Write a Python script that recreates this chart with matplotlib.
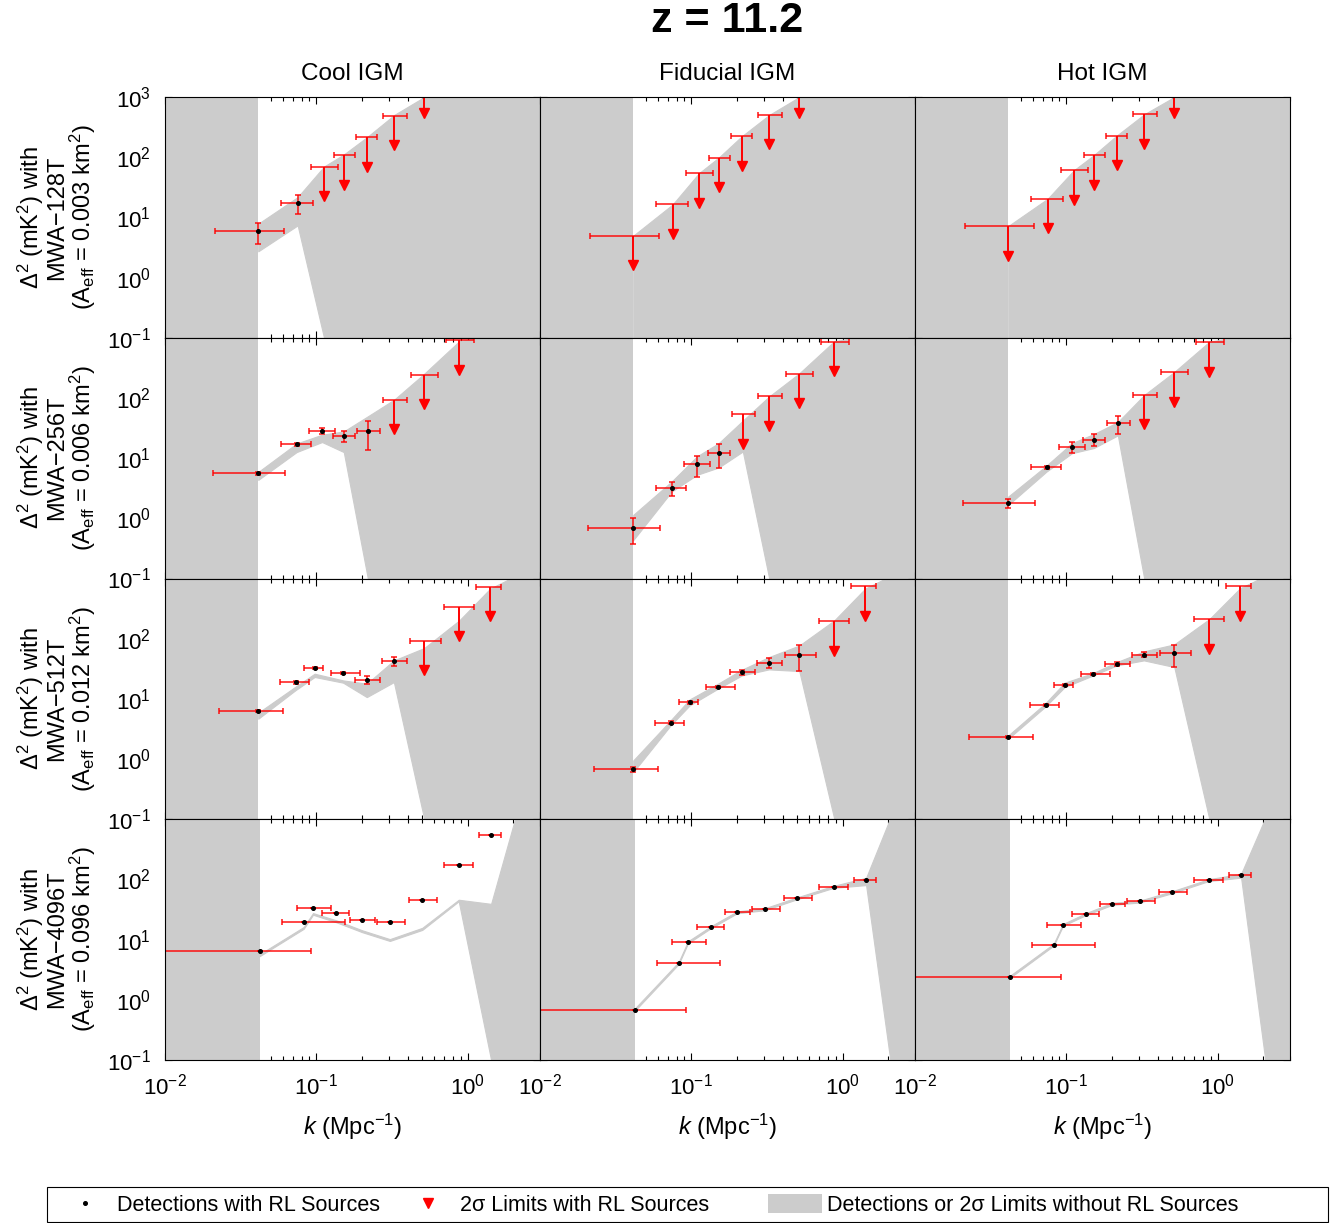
import numpy as np
import matplotlib
matplotlib.use('Agg')
import matplotlib.pyplot as plt
from matplotlib.patches import Rectangle, Patch
from matplotlib.lines import Line2D
from matplotlib.ticker import LogLocator, NullLocator, NullFormatter

plt.rcParams['font.family'] = ['Liberation Sans', 'DejaVu Sans']
plt.rcParams['mathtext.fontset'] = 'custom'
plt.rcParams['mathtext.rm'] = 'Liberation Sans'
plt.rcParams['mathtext.it'] = 'Liberation Sans:italic'
plt.rcParams['mathtext.bf'] = 'Liberation Sans:bold'

# ---------------- data ----------------
col_titles = ['Cool IGM', 'Fiducial IGM', 'Hot IGM']
row_arrays = ['MWA\u2212128T', 'MWA\u2212256T', 'MWA\u2212512T', 'MWA\u22124096T']
row_aeff = ['0.003', '0.006', '0.012', '0.096']

# k bins (Mpc^-1) for each array, with bin edges; kx = extra bin of the no-RL curve
k_128 = [0.0413, 0.0752, 0.1123, 0.1517, 0.2153, 0.3266, 0.516]
klo_128 = [0.0215, 0.0583, 0.092, 0.131, 0.184, 0.2735, 0.417]
khi_128 = [0.061, 0.0944, 0.139, 0.1795, 0.252, 0.394, 0.632]
kx_128 = 0.88

k_256 = [0.0413, 0.0740, 0.109, 0.1517, 0.2187, 0.3266, 0.514, 0.880]
klo_256 = [0.0207, 0.0583, 0.0898, 0.1288, 0.1858, 0.2748, 0.4233, 0.7146]
khi_256 = [0.0620, 0.0926, 0.1335, 0.1812, 0.2612, 0.3943, 0.6326, 1.095]
kx_256 = 1.40

k_512 = [0.0413, 0.0729, 0.0974, 0.150, 0.2153, 0.325, 0.516, 0.880, 1.405]
klo_512 = [0.02265, 0.0574, 0.0828, 0.125, 0.1812, 0.272, 0.417, 0.70, 1.141]
khi_512 = [0.0605, 0.0894, 0.1106, 0.1945, 0.2625, 0.3943, 0.662, 1.106, 1.653]
kx_512 = 2.06

k_4096 = [0.0421, 0.0824, 0.0950, 0.1356, 0.2006, 0.3057, 0.5006, 0.8713, 1.426]
klo_4096 = [0.0, 0.0589, 0.0748, 0.1095, 0.1662, 0.2533, 0.4064, 0.70, 1.182]
khi_4096 = [0.0926, 0.1555, 0.1257, 0.1637, 0.2432, 0.3825, 0.623, 1.090, 1.67]
kx_4096 = 2.06

# --- MWA-128T ---
cool_128_val = [5.86, 17.3, 70, 108, 214, 490, 1700]
cool_128_err = [2.2, 6.0, 0, 0, 0, 0, 0]
cool_128_lim = [0, 0, 1, 1, 1, 1, 1]
cool_128_up = [7.85, 21.7, 70, 111, 214, 503, 1000, 1e4]
cool_128_lo = [2.73, 7.36, 0, 0, 0, 0, 0, 0]

fid_128_val = [4.97, 16.4, 54.3, 98.7, 223, 503, 1700]
fid_128_err = [0, 0, 0, 0, 0, 0, 0]
fid_128_lim = [1, 1, 1, 1, 1, 1, 1]
fid_128_up = [4.97, 16.4, 54.3, 98.7, 223, 503, 1000, 1e4]
fid_128_lo = [0, 0, 0, 0, 0, 0, 0, 0]

hot_128_val = [7.18, 20.4, 60.9, 108, 229, 516, 1700]
hot_128_err = [0, 0, 0, 0, 0, 0, 0]
hot_128_lim = [1, 1, 1, 1, 1, 1, 1]
hot_128_up = [7.18, 20.4, 60.9, 108, 229, 516, 1000, 1e4]
hot_128_lo = [0, 0, 0, 0, 0, 0, 0, 0]

# --- MWA-256T ---
cool_256_val = [5.62, 16.9, 28.6, 23.3, 27.8, 93.8, 245, 914]
cool_256_err = [0.3, 0.8, 3.0, 5.0, 14.0, 0, 0, 0]
cool_256_lim = [0, 0, 0, 0, 0, 1, 1, 1]
cool_256_up = [5.9, 17.5, 24.5, 27.8, 49.5, 93.8, 251, 880, 1050]
cool_256_lo = [4.35, 12.6, 18.5, 12.6, 0, 0, 0, 0, 0]

fid_256_val = [0.69, 3.16, 7.94, 11.96, 53.4, 106.6, 254.5, 858]
fid_256_err = [0.32, 0.85, 3.0, 5.0, 0, 0, 0, 0]
fid_256_lim = [0, 0, 0, 0, 1, 1, 1, 1]
fid_256_up = [1.14, 4.08, 10.7, 17.8, 42, 106, 254, 880, 1050]
fid_256_lo = [0.435, 2.78, 5.28, 7.0, 12.9, 0, 0, 0, 0]

hot_256_val = [1.78, 6.99, 15.3, 20.2, 37.8, 112, 268, 836]
hot_256_err = [0.3, 0.5, 3.0, 4.5, 13.0, 0, 0, 0]
hot_256_lim = [0, 0, 0, 0, 0, 1, 1, 1]
hot_256_up = [2.3, 7.55, 17.8, 25.1, 39.8, 112, 268, 860, 1050]
hot_256_lo = [1.67, 6.0, 12.1, 14.7, 23.9, 0, 0, 0, 0]

# --- MWA-512T ---
cool_512_val = [6.28, 18.8, 32.5, 26.9, 20.6, 42, 92.6, 340, 731]
cool_512_err = [0.3, 0.8, 1.5, 1.2, 3.0, 7.0, 0, 0, 0]
cool_512_lim = [0, 0, 0, 0, 0, 0, 1, 1, 1]
cool_512_up = [5.89, 16.0, 26.2, 20.3, 17.9, 43.6, 70, 202, 678, 1100]
cool_512_lo = [4.68, 14.0, 23.1, 18.6, 10.7, 19.0, 0, 0, 0, 0]

fid_512_val = [0.673, 4.02, 8.75, 15.7, 27.5, 39.9, 53.5, 194, 741]
fid_512_err = [0.07, 0.2, 0.4, 0.8, 3.0, 7.0, 24.0, 0, 0]
fid_512_lim = [0, 0, 0, 0, 0, 0, 0, 1, 1]
fid_512_up = [0.95, 4.4, 9.8, 17.9, 30.5, 49.5, 77, 202, 678, 1100]
fid_512_lo = [0.608, 3.63, 7.8, 14.8, 24.5, 30.9, 29, 0, 0, 0]

hot_512_val = [2.32, 8.0, 17.0, 25.9, 38.4, 54.2, 57, 212, 741]
hot_512_err = [0.1, 0.3, 0.8, 1.2, 3.0, 5.0, 23.0, 0, 0]
hot_512_lim = [0, 0, 0, 0, 0, 0, 0, 1, 1]
hot_512_up = [2.47, 8.53, 18.6, 26.8, 40.9, 61.5, 80.5, 212, 690, 1100]
hot_512_lo = [2.18, 7.5, 15.7, 24.5, 36, 43.6, 33.8, 0, 0, 0]

# --- MWA-4096T ---
cool_4096_val = [6.47, 19.4, 33.3, 27.5, 21.0, 19.7, 44.7, 171, 548]
cool_4096_err = [0, 0, 0, 0, 0, 0, 0, 0, 0]
cool_4096_lim = [0, 0, 0, 0, 0, 0, 0, 0, 0]
cool_4096_up = [5.7, 16.2, 27.6, 20.9, 14.3, 10.2, 15.7, 46, 39.3, 1050]
cool_4096_lo = [5.3, 15.1, 25.9, 19.4, 13.3, 9.5, 14.5, 43.4, 0, 0]

fid_4096_val = [0.68, 4.08, 9.03, 16.3, 28.5, 32, 48.8, 75.5, 97.5]
fid_4096_err = [0, 0, 0, 0, 0, 0, 0, 0, 0]
fid_4096_lim = [0, 0, 0, 0, 0, 0, 0, 0, 0]
fid_4096_up = [0.71, 4.25, 9.4, 16.9, 29.5, 33.3, 50.5, 78.4, 106.6, 1050]
fid_4096_lo = [0.65, 3.92, 8.7, 15.7, 27.4, 30.8, 47, 72.6, 80.5, 0]

hot_4096_val = [2.39, 8.25, 17.6, 26.8, 39.3, 43, 61.5, 97.5, 119.6]
hot_4096_err = [0, 0, 0, 0, 0, 0, 0, 0, 0]
hot_4096_lim = [0, 0, 0, 0, 0, 0, 0, 0, 0]
hot_4096_up = [2.48, 8.55, 18.2, 27.8, 40.8, 44.6, 63.8, 101, 124, 1050]
hot_4096_lo = [2.30, 7.95, 17.0, 25.8, 37.8, 41.4, 59.2, 94, 107, 0]

rows = [
    (k_128, klo_128, khi_128, kx_128,
     [(cool_128_val, cool_128_err, cool_128_lim, cool_128_up, cool_128_lo),
      (fid_128_val, fid_128_err, fid_128_lim, fid_128_up, fid_128_lo),
      (hot_128_val, hot_128_err, hot_128_lim, hot_128_up, hot_128_lo)]),
    (k_256, klo_256, khi_256, kx_256,
     [(cool_256_val, cool_256_err, cool_256_lim, cool_256_up, cool_256_lo),
      (fid_256_val, fid_256_err, fid_256_lim, fid_256_up, fid_256_lo),
      (hot_256_val, hot_256_err, hot_256_lim, hot_256_up, hot_256_lo)]),
    (k_512, klo_512, khi_512, kx_512,
     [(cool_512_val, cool_512_err, cool_512_lim, cool_512_up, cool_512_lo),
      (fid_512_val, fid_512_err, fid_512_lim, fid_512_up, fid_512_lo),
      (hot_512_val, hot_512_err, hot_512_lim, hot_512_up, hot_512_lo)]),
    (k_4096, klo_4096, khi_4096, kx_4096,
     [(cool_4096_val, cool_4096_err, cool_4096_lim, cool_4096_up, cool_4096_lo),
      (fid_4096_val, fid_4096_err, fid_4096_lim, fid_4096_up, fid_4096_lo),
      (hot_4096_val, hot_4096_err, hot_4096_lim, hot_4096_up, hot_4096_lo)]),
]

# ---------------- style ----------------
XMIN, XMAX = 0.01, 3.0
YMIN, YMAX = 0.1, 1000.0
GREY = '#cccccc'
RED = '#ff0000'

W, H = 1333, 1223
fig = plt.figure(figsize=(W / 100, H / 100), dpi=100)
gs = fig.add_gridspec(4, 3, left=165 / W, right=1290 / W,
                      top=1 - 97 / H, bottom=1 - 1060 / H, wspace=0, hspace=0)

ytick_vals = [0.1, 1, 10, 100, 1000]
xtick_vals = [0.01, 0.1, 1]


def draw_panel(ax, k, klo, khi, kx, val, err, lim, up, lo):
    k = np.asarray(k, float)
    klo = np.asarray(klo, float)
    khi = np.asarray(khi, float)
    val = np.asarray(val, float)
    err = np.asarray(err, float)
    lim = np.asarray(lim, bool)
    up = np.asarray(up, float)
    lo = np.asarray(lo, float)

    # no-RL band
    kf = np.concatenate([k, [kx, XMAX * 1.2]])
    upf = np.concatenate([up, [1e5]])
    lof = np.concatenate([np.where(lo <= 0, YMIN, lo), [YMIN]])
    ax.axvspan(XMIN * 0.5, k[0], color=GREY, lw=0, zorder=2)
    ax.fill_between(kf, lof, upf, facecolor=GREY, edgecolor=GREY,
                    linewidth=0.8, zorder=2)

    xl = k - klo
    xh = khi - k
    det = ~lim
    if det.any():
        ax.errorbar(k[det], val[det], xerr=[xl[det], xh[det]],
                    yerr=err[det], fmt='none', ecolor=RED, elinewidth=1.2,
                    capsize=2.3, capthick=1.2, zorder=3, alpha=0.85)
        ax.plot(k[det], val[det], 'o', ms=2.6, color='k', zorder=5)
    if lim.any():
        ax.errorbar(k[lim], val[lim], xerr=[xl[lim], xh[lim]],
                    fmt='none', ecolor=RED, elinewidth=1.2,
                    capsize=2.3, capthick=1.2, zorder=3, alpha=0.85)
        ax.vlines(k[lim], val[lim] * 10 ** -0.45, val[lim], color=RED,
                  lw=1.4, zorder=3)
        ax.plot(k[lim], val[lim] * 10 ** -0.49, 'v', ms=6.8, color=RED,
                mec=RED, zorder=4)

    ax.set_xscale('log')
    ax.set_yscale('log')
    ax.set_xlim(XMIN, XMAX)
    ax.set_ylim(YMIN, YMAX)
    ax.set_axisbelow(True)


for r, (k, klo, khi, kx, panels) in enumerate(rows):
    for c, (val, err, lim, up, lo) in enumerate(panels):
        ax = fig.add_subplot(gs[r, c])
        draw_panel(ax, k, klo, khi, kx, val, err, lim, up, lo)
        ax.set_yticks(ytick_vals)
        ax.yaxis.set_minor_locator(NullLocator())
        ax.set_xticks(xtick_vals)
        ax.xaxis.set_minor_locator(LogLocator(base=10, subs=np.arange(2, 10), numticks=20))
        ax.xaxis.set_minor_formatter(NullFormatter())
        ylabels = [r'$10^{-1}$', r'$10^{0}$', r'$10^{1}$', r'$10^{2}$',
                   r'$10^{3}$' if r == 0 else '']
        ax.set_yticklabels(ylabels)
        ax.set_xticklabels([r'$10^{-2}$', r'$10^{-1}$', r'$10^{0}$'])
        ax.tick_params(which='both', direction='in', top=True, right=True,
                       labelsize=16, width=0.8)
        ax.tick_params(which='major', length=5)
        ax.tick_params(which='minor', length=3)
        ax.tick_params(axis='y', pad=10)
        ax.tick_params(axis='x', pad=10)
        if c > 0:
            ax.tick_params(labelleft=False)
        if r < 3:
            ax.tick_params(labelbottom=False)
        else:
            ax.set_xlabel(r'$k$ (Mpc$^{-1}$)', fontsize=17, labelpad=9)
        if r == 0:
            ax.set_title(col_titles[c], fontsize=17.5, pad=12)
        for sp in ax.spines.values():
            sp.set_linewidth(0.8)
            sp.set_zorder(6)

# row labels
for r in range(4):
    ytop = 97 + r * (1060 - 97) / 4
    yc = ytop + (1060 - 97) / 8
    txt = ('\u0394$^2$ (mK$^2$) with\n' + row_arrays[r] + '\n'
           '(A$_\\mathrm{eff}$ = ' + row_aeff[r] + ' km$^2$)')
    fig.text(57 / W, 1 - yc / H, txt, rotation=90, ha='center', va='center',
             fontsize=17, linespacing=1.0, multialignment='center')

fig.text(727 / W, 1 - 21 / H, 'z = 11.2', ha='center', va='center',
         fontsize=31, fontweight='bold')

# legend: framed box with three entries at their own positions
fig.patches.append(Rectangle((47 / W, 1 / H), (1328 - 47) / W, 35 / H,
                             transform=fig.transFigure, fill=False,
                             edgecolor='k', linewidth=0.8))
handles = [Line2D([], [], marker='o', ms=2.6, color='k', ls='none'),
           Line2D([], [], marker='v', ms=6.8, color=RED, ls='none'),
           Patch(facecolor=GREY, edgecolor='none')]
labels = ['Detections with RL Sources', '2\u03c3 Limits with RL Sources',
          'Detections or 2\u03c3 Limits without RL Sources']
legend_x = [58, 401, 768]
for h, lab, lx in zip(handles, labels, legend_x):
    leg = fig.legend([h], [lab], loc='center left', frameon=False,
                     bbox_to_anchor=(lx / W, 1 - 1205 / H), fontsize=15.5,
                     handlelength=2.5, handletextpad=0.25,
                     borderpad=0.0, borderaxespad=0.0, handleheight=1.0)

fig.savefig('out.png', dpi=100)
